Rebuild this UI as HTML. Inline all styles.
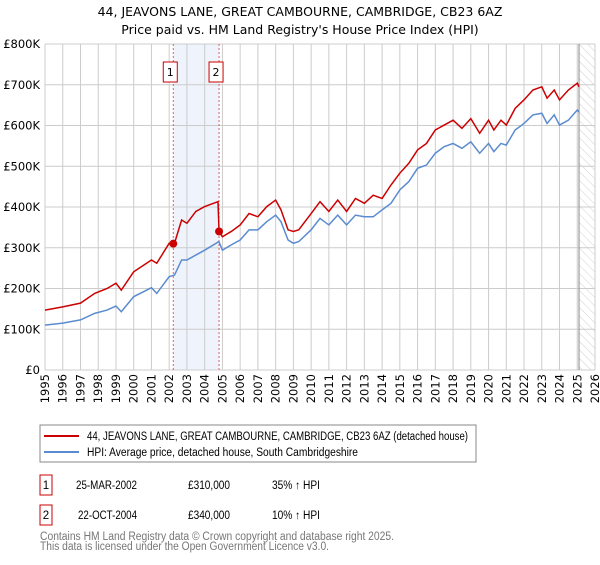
<!DOCTYPE html>
<html><head><meta charset="utf-8"><style>
body{margin:0;background:#fff;font-family:"Liberation Sans","DejaVu Sans",sans-serif;}
svg text{font-family:"DejaVu Sans","Liberation Sans",sans-serif;}
svg text.lb{font-family:"Liberation Sans","DejaVu Sans",sans-serif;}
</style></head><body>
<svg id="c" width="600" height="560" viewBox="0 0 600 560" xmlns="http://www.w3.org/2000/svg">
<defs><pattern id="hatch" width="6" height="6" patternUnits="userSpaceOnUse" patternTransform="rotate(-45)"><line x1="0" y1="0" x2="0" y2="6" stroke="#bbb" stroke-width="0.7"/></pattern></defs>
<text x="300" y="16" text-anchor="middle" font-size="12.5" fill="#000">44, JEAVONS LANE, GREAT CAMBOURNE, CAMBRIDGE, CB23 6AZ</text>
<text x="300" y="34" text-anchor="middle" font-size="12.5" fill="#000">Price paid vs. HM Land Registry's House Price Index (HPI)</text>
<g id="plot"></g>
<rect x="40" y="425" width="436" height="37" fill="#fff" stroke="#888"/>
<line x1="44" y1="436" x2="79" y2="436" stroke="#cc0000" stroke-width="2"/>
<text class="lb" x="87" y="440" font-size="11.5" textLength="381" lengthAdjust="spacingAndGlyphs">44, JEAVONS LANE, GREAT CAMBOURNE, CAMBRIDGE, CB23 6AZ (detached house)</text>
<line x1="44" y1="452" x2="79" y2="452" stroke="#5b8bd0" stroke-width="2"/>
<text class="lb" x="87" y="456" font-size="11.5" textLength="271" lengthAdjust="spacingAndGlyphs">HPI: Average price, detached house, South Cambridgeshire</text>
<rect x="40" y="475" width="12" height="20" fill="#fff" stroke="#cc0000"/>
<text class="lb" x="46" y="489" text-anchor="middle" font-size="11.5">1</text>
<text class="lb" x="76" y="489" font-size="11.5" textLength="61" lengthAdjust="spacingAndGlyphs">25-MAR-2002</text>
<text class="lb" x="188" y="489" font-size="11.5" textLength="42" lengthAdjust="spacingAndGlyphs">£310,000</text>
<text class="lb" x="272" y="489" font-size="11.5" textLength="48" lengthAdjust="spacingAndGlyphs">35% ↑ HPI</text>
<rect x="40" y="505" width="12" height="20" fill="#fff" stroke="#cc0000"/>
<text class="lb" x="46" y="519" text-anchor="middle" font-size="11.5">2</text>
<text class="lb" x="78" y="519" font-size="11.5" textLength="59" lengthAdjust="spacingAndGlyphs">22-OCT-2004</text>
<text class="lb" x="188" y="519" font-size="11.5" textLength="42" lengthAdjust="spacingAndGlyphs">£340,000</text>
<text class="lb" x="272" y="519" font-size="11.5" textLength="48" lengthAdjust="spacingAndGlyphs">10% ↑ HPI</text>
<text class="lb" x="40" y="540" font-size="11.5" fill="#777" textLength="354" lengthAdjust="spacingAndGlyphs">Contains HM Land Registry data © Crown copyright and database right 2025.</text>
<text class="lb" x="40" y="550" font-size="11.5" fill="#777" textLength="289" lengthAdjust="spacingAndGlyphs">This data is licensed under the Open Government Licence v3.0.</text>
</svg>
<script>
const yTicks=[0,100,200,300,400,500,600,700,800];
const yTickLabels=["£0","£100K","£200K","£300K","£400K","£500K","£600K","£700K","£800K"];
const xYears=[1995,1996,1997,1998,1999,2000,2001,2002,2003,2004,2005,2006,2007,2008,2009,2010,2011,2012,2013,2014,2015,2016,2017,2018,2019,2020,2021,2022,2023,2024,2025,2026];
const hpiT=[1995,1996,1997,1997.8,1998.5,1999,1999.3,2000,2001,2001.3,2002,2002.3,2002.7,2003,2003.5,2004,2004.8,2005,2005.5,2006,2006.5,2007,2007.5,2008,2008.3,2008.7,2009,2009.3,2010,2010.5,2011,2011.5,2012,2012.5,2013,2013.5,2014,2014.5,2015,2015.5,2016,2016.5,2017,2017.5,2018,2018.5,2019,2019.5,2020,2020.3,2020.7,2021,2021.5,2022,2022.5,2023,2023.3,2023.7,2024,2024.5,2025,2025.1];
const hpiV=[110,115,123,139,147,157,143,180,202,188,229,233,270,270,282,294,315,294,307,319,344,344,364,380,364,319,311,315,344,372,356,380,356,380,376,376,393,409,442,462,495,503,532,548,556,544,560,532,556,536,556,552,589,605,626,630,605,626,601,613,638,633];
const priceT=[1995,1996,1997,1997.8,1998.5,1999,1999.3,2000,2001,2001.3,2002,2002.3,2002.7,2003,2003.5,2004,2004.75,2004.81,2005,2005.5,2006,2006.5,2007,2007.5,2008,2008.3,2008.7,2009,2009.3,2010,2010.5,2011,2011.5,2012,2012.5,2013,2013.5,2014,2014.5,2015,2015.5,2016,2016.5,2017,2017.5,2018,2018.5,2019,2019.5,2020,2020.3,2020.7,2021,2021.5,2022,2022.5,2023,2023.3,2023.7,2024,2024.5,2025,2025.1];
const priceV=[147,155,164,188,200,213,196,241,270,262,311,311,368,360,389,401,413,340,327,340,356,384,376,401,417,393,344,340,344,384,413,389,417,389,421,409,429,421,454,483,507,540,556,589,601,613,593,617,581,613,589,613,601,642,663,687,695,667,687,663,687,704,695];
const salesT=[2002.23,2004.81];
const salesV=[310,340];
const dataEnd=2025.1;
const NS="http://www.w3.org/2000/svg";
const X0=45,X1=595,Y0=370,Y1=44;
const xs=t=>X0+(t-1995)*(X1-X0)/31;
const ys=v=>Y0-v*(Y0-Y1)/800;
const g=document.getElementById('plot');
function mk(tag,a){const e=document.createElementNS(NS,tag);for(const k in a)e.setAttribute(k,a[k]);g.appendChild(e);return e;}
let e=mk('rect',{x:xs(salesT[0]),y:Y1,width:xs(salesT[1])-xs(salesT[0]),height:Y0-Y1,fill:'#eef3fc'});


e=mk('rect',{x:xs(dataEnd),y:Y1,width:X1-xs(dataEnd),height:Y0-Y1,fill:'url(#hatch)'});


yTicks.forEach((v,i)=>{
 const l=mk('line',{x1:X0,x2:X1,y1:ys(v),y2:ys(v),stroke:'#ccc','stroke-width':1});
 
 
 const t=mk('text',{x:40,y:ys(v)+4,'text-anchor':'end','font-size':11.5});
 t.textContent=yTickLabels[i];
 
 
});
xYears.forEach(y=>{
 const l=mk('line',{x1:xs(y),x2:xs(y),y1:Y1,y2:Y0,stroke:'#ccc','stroke-width':1});
 
 
 const t=mk('text',{x:0,y:0,'text-anchor':'end','font-size':11.5,transform:`translate(${xs(y)+4},374) rotate(-90)`});
 t.textContent=y;
 
 
});
e=mk('line',{x1:xs(dataEnd),x2:xs(dataEnd),y1:Y1,y2:Y0,stroke:'#888','stroke-width':1});


salesT.forEach((t,i)=>{
 const l=mk('line',{x1:xs(t),x2:xs(t),y1:Y1,y2:Y0,stroke:'#e06060','stroke-width':1,'stroke-dasharray':'2,2'});
 
 
 const r=mk('rect',{x:xs(t)-7-3,y:62,width:14,height:20,fill:'#fff',stroke:'#cc0000'});
 
 
 const tx=mk('text',{x:xs(t)-3,y:76,'text-anchor':'middle','font-size':11});
 tx.textContent=String(i+1);
 
 
});
let p=mk('polyline',{points:hpiT.map((t,i)=>xs(t)+','+ys(hpiV[i])).join(' '),fill:'none',stroke:'#5b8bd0','stroke-width':1.5});


p=mk('polyline',{points:priceT.map((t,i)=>xs(t)+','+ys(priceV[i])).join(' '),fill:'none',stroke:'#cc0000','stroke-width':1.5});


salesT.forEach((t,i)=>{
 const c=mk('circle',{cx:xs(t),cy:ys(salesV[i]),r:4,fill:'#cc0000'});
 
 
});
</script>
</body></html>
